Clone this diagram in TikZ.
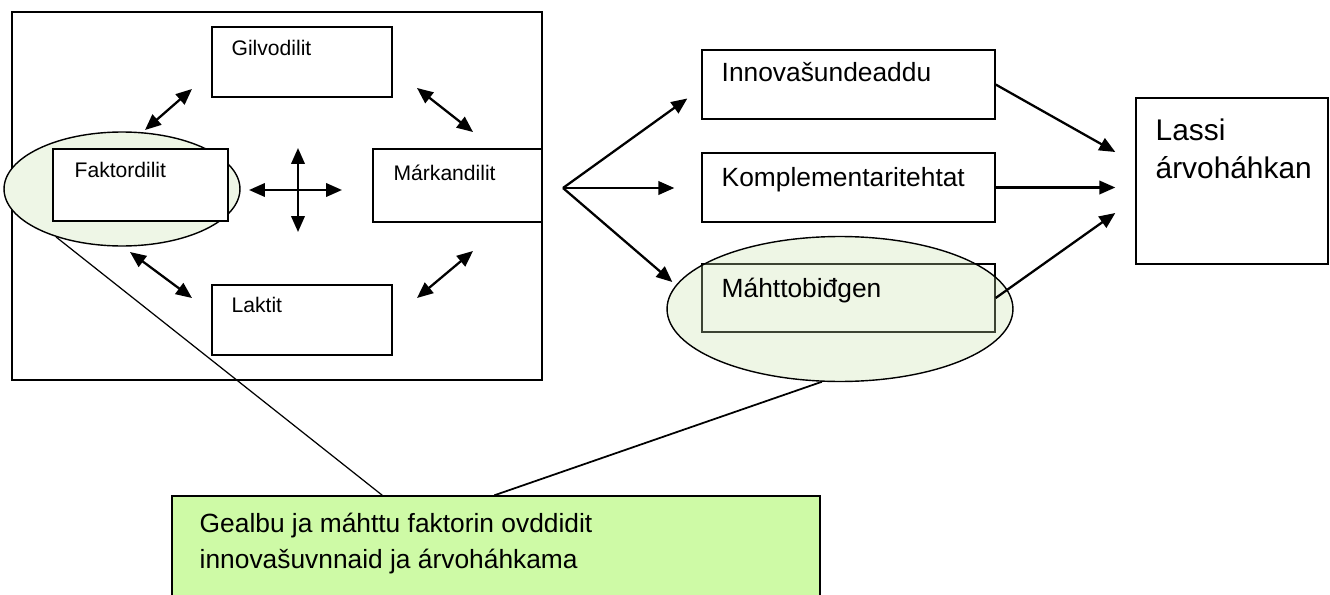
\documentclass[tikz,border=0pt]{standalone}
\usepackage{fontspec}
\setmainfont{Liberation Sans}
\usetikzlibrary{arrows.meta, positioning, shapes.geometric}
\definecolor{ovalgreen}{RGB}{200,225,170}
\definecolor{notegreen}{RGB}{206,250,166}
\tikzstyle{box} = [draw, rectangle, line width=0.8pt, inner sep=0pt]
\tikzstyle{oval} = [draw, ellipse, line width=0.8pt, inner sep=0pt]
\tikzstyle{small} = [inner sep=0pt, font=\fontsize{12}{14}\selectfont]
\tikzstyle{large} = [inner sep=0pt, align=left, font=\fontsize{15}{21}\selectfont]
\tikzstyle{arr} = [-{Triangle[length=0.32cm, width=0.27cm]}, line width=1.3pt]
\tikzstyle{twoway} = [{Triangle[length=0.32cm, width=0.27cm]}-{Triangle[length=0.32cm, width=0.27cm]}, line width=1.3pt]

\begin{document}
\begin{tikzpicture}[x=0.02cm, y=-0.02cm]
    \useasboundingbox (0,0) rectangle (1330,595);
    \node (frame) [box, minimum width=10.6cm, minimum height=7.36cm] at (277,196) {};
    \node (fakto oval) [oval, fill=ovalgreen!30, minimum width=4.72cm, minimum height=2.28cm] at (122,189) {};
    \node (gilvo) [box, minimum width=3.6cm, minimum height=1.4cm] at (302,62) {};
    \node (fakto) [box, fill=white, minimum width=3.5cm, minimum height=1.44cm] at (140.5,185) {};
    \node (markan) [box, minimum width=3.38cm, minimum height=1.46cm] at (457.5,185.5) {};
    \node (laktit) [box, minimum width=3.6cm, minimum height=1.4cm] at (302,320) {};
    \node (innov) [box, minimum width=5.86cm, minimum height=1.38cm] at (848.5,84.5) {};
    \node (kompl) [box, minimum width=5.86cm, minimum height=1.38cm] at (848.5,187.5) {};
    \node (mahtto) [box, minimum width=5.86cm, minimum height=1.36cm] at (848.5,298) {};
    \node (mahtto oval) [oval, fill=ovalgreen, fill opacity=0.3, minimum width=6.92cm, minimum height=2.9cm] at (840,309) {};
    \node (lassi) [box, minimum width=3.84cm, minimum height=3.32cm] at (1232,181) {};
    \node (note) [box, fill=notegreen, minimum width=12.96cm, minimum height=2.28cm] at (496,553) {};

    % Texts.
    \node (gilvo text) [small, below right=0.28cm and 0.4cm of gilvo.north west] {Gilvodilit};
    \node (fakto text) [small, below right=0.28cm and 0.44cm of fakto.north west] {Faktordilit};
    \node (markan text) [small, below right=0.32cm and 0.42cm of markan.north west] {Márkandilit};
    \node (laktit text) [small, below right=0.26cm and 0.4cm of laktit.north west] {Laktit};
    \node (innov text) [large, below right=0.26cm and 0.4cm of innov.north west] {Innovašundeaddu};
    \node (kompl text) [large, below right=0.3cm and 0.4cm of kompl.north west] {Komplementaritehtat};
    \node (mahtto text) [large, below right=0.28cm and 0.4cm of mahtto.north west] {Máhttobiđgen};
    \node (lassi text) [large, font=\fontsize{17}{21.5}\selectfont, below right=0.42cm and 0.4cm of lassi.north west] {Lassi\\árvoháhkan};
    \node (note text) [large, below right=0.34cm and 0.56cm of note.north west] {Gealbu ja máhttu faktorin ovddidit\\innovašuvnnaid ja árvoháhkama};

    % Arrow ends.
    \coordinate (nw a) at (145,130);
    \coordinate (nw b) at (192,89);
    \coordinate (ne a) at (417,88);
    \coordinate (ne b) at (473,132);
    \coordinate (sw a) at (130,252);
    \coordinate (sw b) at (192,298);
    \coordinate (se a) at (417,298);
    \coordinate (se b) at (473,251);
    \coordinate (cross l) at (249,190);
    \coordinate (cross r) at (342,190);
    \coordinate (cross t) at (298,148);
    \coordinate (cross b) at (298,232);
    \coordinate (split) at (563,188);

    % Arrows.
    \draw [twoway] (nw a) -- (nw b);
    \draw [twoway] (ne a) -- (ne b);
    \draw [twoway] (sw a) -- (sw b);
    \draw [twoway] (se a) -- (se b);
    \draw [twoway] (cross l) -- (cross r);
    \draw [twoway] (cross t) -- (cross b);
    \draw [arr] (split) -- ([shift={(-0.28cm,-0.28cm)}]innov.west);
    \draw [arr, shorten >=0.54cm] (split) -- (split -| kompl.west);
    \draw [arr] (split) -- ([shift={(-0.58cm,0.32cm)}]mahtto.west);
    \draw [arr] (innov.east) -- ([shift={(-0.4cm,0.58cm)}]lassi.west);
    \draw [arr, shorten >=0.4cm] (kompl.east) -- (kompl.east -| lassi.west);
    \draw [arr] (mahtto.east) -- ([shift={(-0.4cm,-0.64cm)}]lassi.west);
    \draw [line width=0.7pt] (fakto oval.216) -- ([xshift=4.22cm]note.north west);
    \draw [line width=1pt] (mahtto oval.256) -- ([xshift=6.46cm]note.north west);
\end{tikzpicture}
\end{document}
